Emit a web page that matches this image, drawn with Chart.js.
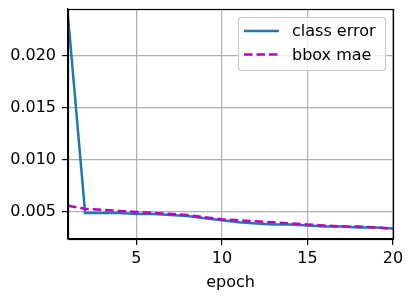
<!DOCTYPE html>
<html>
<head>
<meta charset="utf-8">
<script src="https://cdn.jsdelivr.net/npm/chart.js@4"></script>
<style>
  html, body { margin: 0; padding: 0; background: #fff; }
  #wrap { width: 413px; height: 298px; }
</style>
</head>
<body>
<div id="wrap"><canvas id="myChart" width="413" height="298"></canvas></div>
<script>
// data
const epochs = [1, 2, 3, 4, 5, 6, 7, 8, 9, 10, 11, 12, 13, 14, 15, 16, 17, 18, 19, 20];
const classError = [0.0238, 0.0049, 0.0049, 0.0049, 0.0048, 0.0048, 0.0047, 0.0046, 0.0044, 0.0042,
                    0.0040, 0.0039, 0.0038, 0.0038, 0.0037, 0.0036, 0.0036, 0.0035, 0.0035, 0.0034];
const bboxMae = [0.0056, 0.0053, 0.0052, 0.0051, 0.0050, 0.0049, 0.0048, 0.0047, 0.0045, 0.0043,
                 0.0042, 0.0041, 0.0040, 0.0039, 0.0038, 0.0037, 0.0036, 0.0036, 0.0035, 0.0034];
const xTicks = [5, 10, 15, 20];
const yTicks = [0.005, 0.010, 0.015, 0.020];

const font = "DejaVu Sans";
const fontSize = 16;

// frame round the plot and the legend inside it
const framePlugin = {
    id: 'frame',
    afterDraw(chart) {
        const ctx = chart.ctx;
        const a = chart.chartArea;
        ctx.save();
        ctx.strokeStyle = '#000';
        ctx.lineWidth = 1.2;
        ctx.strokeRect(Math.round(a.left) + 0.5, Math.round(a.top) + 0.5,
            Math.round(a.right - a.left), Math.round(a.bottom - a.top));

        // legend, upper right
        const bx = a.right - 155, by = a.top + 8, bw = 147, bh = 53;
        ctx.fillStyle = 'rgba(255,255,255,0.8)';
        ctx.strokeStyle = '#cccccc';
        ctx.lineWidth = 1.2;
        ctx.beginPath();
        ctx.roundRect(bx + 0.5, by + 0.5, bw, bh, 3);
        ctx.fill();
        ctx.stroke();
        ctx.font = fontSize + 'px "' + font + '"';
        ctx.textBaseline = 'middle';
        chart.data.datasets.forEach((ds, i) => {
            const y = by + 14 + i * 23.5;
            ctx.strokeStyle = ds.borderColor;
            ctx.lineWidth = ds.borderWidth;
            ctx.setLineDash(ds.borderDash || []);
            ctx.beginPath();
            ctx.moveTo(bx + 6, y);
            ctx.lineTo(bx + 41, y);
            ctx.stroke();
            ctx.setLineDash([]);
            ctx.fillStyle = '#000';
            ctx.fillText(ds.label, bx + 54, y + 1);
        });
        ctx.restore();
    }
};

const data = {
    labels: epochs,
    datasets: [
        {
            label: 'class error',
            data: epochs.map((e, i) => ({ x: e, y: classError[i] })),
            borderColor: '#1f77b4',
            borderWidth: 2.5,
            pointRadius: 0,
            tension: 0,
            order: 1
        },
        {
            label: 'bbox mae',
            data: epochs.map((e, i) => ({ x: e, y: bboxMae[i] })),
            borderColor: '#bf00bf',
            borderWidth: 2.5,
            borderDash: [8.5, 4],
            pointRadius: 0,
            tension: 0,
            order: 0
        }
    ]
};

const config = {
    type: 'line',
    data: data,
    plugins: [framePlugin],
    options: {
        responsive: false,
        animation: false,
        layout: { padding: { left: 0, right: 20, top: 9, bottom: 0 } },
        plugins: {
            legend: { display: false },
            tooltip: { enabled: false }
        },
        scales: {
            x: {
                type: 'linear',
                min: 1,
                max: 20,
                afterBuildTicks: (scale) => { scale.ticks = xTicks.map(v => ({ value: v })); },
                afterFit: (scale) => { scale.height = 59; scale.paddingLeft = 0; scale.paddingRight = 0; },
                grid: { color: '#b0b0b0', lineWidth: 1.2, tickColor: '#000', tickLength: 6 },
                border: { color: '#000', width: 1.2 },
                ticks: { color: '#000', font: { family: font, size: fontSize }, padding: 4, maxRotation: 0 },
                title: { display: true, text: 'epoch', color: '#000', font: { family: font, size: fontSize }, padding: { top: 0, bottom: 6 } }
            },
            y: {
                min: 0.0024,
                max: 0.0245,
                afterBuildTicks: (scale) => { scale.ticks = yTicks.map(v => ({ value: v })); },
                afterFit: (scale) => { scale.width = 68; scale.paddingTop = 0; scale.paddingBottom = 0; },
                grid: { color: '#b0b0b0', lineWidth: 1.2, tickColor: '#000', tickLength: 6 },
                border: { color: '#000', width: 1.2 },
                ticks: {
                    color: '#000',
                    font: { family: font, size: fontSize },
                    padding: 6,
                    callback: (v) => v.toFixed(3)
                }
            }
        }
    }
};

new Chart(document.getElementById('myChart'), config);
</script>
</body>
</html>
